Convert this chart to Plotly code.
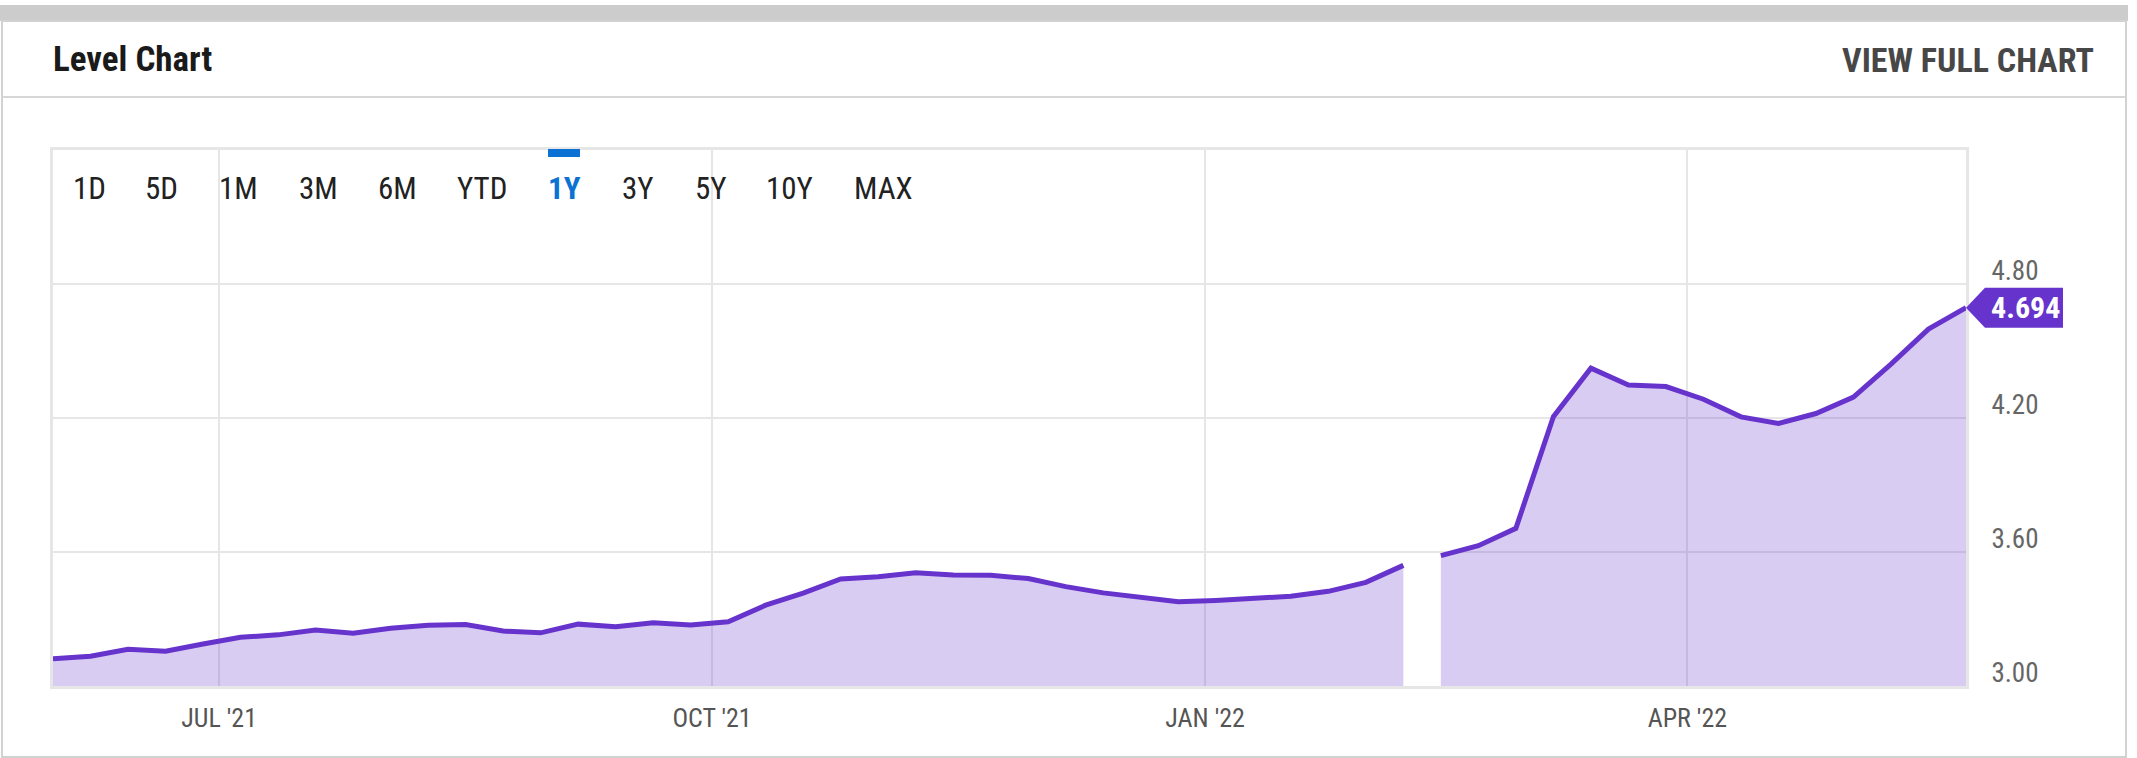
import plotly.graph_objects as go

# ---------------- data ----------------
dates = [
    "2021-05-31", "2021-06-07", "2021-06-14", "2021-06-21", "2021-06-28",
    "2021-07-05", "2021-07-12", "2021-07-19", "2021-07-26", "2021-08-02",
    "2021-08-09", "2021-08-16", "2021-08-23", "2021-08-30", "2021-09-06",
    "2021-09-13", "2021-09-20", "2021-09-27", "2021-10-04", "2021-10-11",
    "2021-10-18", "2021-10-25", "2021-11-01", "2021-11-08", "2021-11-15",
    "2021-11-22", "2021-11-29", "2021-12-06", "2021-12-13", "2021-12-20",
    "2021-12-27", "2022-01-03", "2022-01-10", "2022-01-17", "2022-01-24",
    "2022-01-31", "2022-02-07", "2022-02-10", "2022-02-14", "2022-02-21",
    "2022-02-28", "2022-03-07", "2022-03-14", "2022-03-21", "2022-03-28",
    "2022-04-04", "2022-04-11", "2022-04-18", "2022-04-25", "2022-05-02",
    "2022-05-09", "2022-05-16", "2022-05-23",
]
values = [
    3.122, 3.133, 3.164, 3.156, 3.188,
    3.218, 3.229, 3.251, 3.236, 3.259,
    3.272, 3.275, 3.246, 3.238, 3.277,
    3.265, 3.283, 3.273, 3.288, 3.362,
    3.416, 3.479, 3.489, 3.507, 3.497,
    3.496, 3.481, 3.445, 3.417, 3.398,
    3.377, 3.383, 3.392, 3.402, 3.424,
    3.464, 3.540, None, 3.584, 3.628,
    3.706, 4.206, 4.423, 4.348, 4.341,
    4.284, 4.205, 4.176, 4.220, 4.294,
    4.441, 4.598, 4.694,
]
x_tick_dates = ["2021-07-01", "2021-10-01", "2022-01-01", "2022-04-01"]
x_tick_labels = ["JUL '21", "OCT '21", "JAN '22", "APR '22"]
y_tick_vals = [3.00, 3.60, 4.20, 4.80]
y_tick_labels = ["3.00", "3.60", "4.20", "4.80"]
y_range = [3.00, 5.40]
range_buttons = ["1D", "5D", "1M", "3M", "6M", "YTD", "1Y", "3Y", "5Y", "10Y", "MAX"]
active_button = "1Y"
title_text = "Level Chart"
link_text = "VIEW FULL CHART"
last_label = "4.694"

# ---------------- layout constants (pixels) ----------------
W, H = 2137, 758
L, R, T, B = 53, 1966, 150, 686
button_x = [89, 161, 238, 318, 397, 482, 564, 638, 711, 789, 883]
FONT = "Liberation Sans Narrow, Roboto Condensed, Arial Narrow, Roboto"
LINE = "#6633cc"
FILL = "rgba(102,51,204,0.25)"
GRID = "#e6e6e6"


def px(X):
    return (X - L) / (R - L)


def py(Y):
    return (B - Y) / (B - T)


# split the series at missing values so both the line and the fill break
segments = []
cur_x, cur_y = [], []
for d, v in zip(dates, values):
    if v is None:
        if cur_x:
            segments.append((cur_x, cur_y))
        cur_x, cur_y = [], []
    else:
        cur_x.append(d)
        cur_y.append(v)
if cur_x:
    segments.append((cur_x, cur_y))

fig = go.Figure()
for sx, sy in segments:
    fig.add_trace(go.Scatter(
        x=sx, y=sy, mode="lines",
        line=dict(color=LINE, width=5), fill="tozeroy", fillcolor=FILL,
        hoverinfo="x+y", showlegend=False,
    ))

shapes = []
annotations = []

# top gray bar
shapes.append(dict(type="rect", xref="paper", yref="paper",
                   x0=px(0), x1=px(2128), y0=py(21), y1=py(5),
                   fillcolor="#cccccc", line=dict(width=0), layer="below"))
# card border
shapes.append(dict(type="rect", xref="paper", yref="paper",
                   x0=px(2), x1=px(2126), y0=py(757), y1=py(21),
                   fillcolor="rgba(0,0,0,0)", line=dict(color="#d2d2d2", width=2),
                   layer="below"))
# header separator
shapes.append(dict(type="line", xref="paper", yref="paper",
                   x0=px(3), x1=px(2125), y0=py(97), y1=py(97),
                   line=dict(color="#d6d6d6", width=2)))
# active button indicator
shapes.append(dict(type="rect", xref="paper", yref="paper",
                   x0=px(548), x1=px(580), y0=py(157), y1=py(149),
                   fillcolor="#0b72d3", line=dict(width=0)))

# last value tag
last_val = [v for v in values if v is not None][-1]
per_px = (y_range[1] - y_range[0]) / (B - T)
hh = 20 * per_px
tip, x1, x2 = px(R), px(R + 19), px(R + 97)
path = (f"M {tip},{last_val} L {x1},{last_val + hh} L {x2},{last_val + hh} "
        f"L {x2},{last_val - hh} L {x1},{last_val - hh} Z")
shapes.append(dict(type="path", xref="paper", yref="y", path=path,
                   fillcolor=LINE, line=dict(width=0)))
annotations.append(dict(xref="paper", yref="y", x=px(R + 59), y=last_val,
                        text=f"<b>{last_label}</b>", showarrow=False,
                        xanchor="center", yanchor="middle",
                        font=dict(family=FONT, size=30, color="white")))

# header texts
annotations.append(dict(xref="paper", yref="paper", x=px(51), y=py(60),
                        text=f"<b>{title_text}</b>", showarrow=False,
                        xanchor="left", yanchor="middle",
                        font=dict(family=FONT, size=35, color="#1a1a1a")))
annotations.append(dict(xref="paper", yref="paper", x=px(2096), y=py(60),
                        text=f"<b>{link_text}</b>", showarrow=False,
                        xanchor="right", yanchor="middle",
                        font=dict(family=FONT, size=34, color="#474747")))

# range buttons
for lbl, bx in zip(range_buttons, button_x):
    active = lbl == active_button
    annotations.append(dict(xref="paper", yref="paper", x=px(bx), y=py(189),
                            text=f"<b>{lbl}</b>" if active else lbl,
                            showarrow=False, xanchor="center", yanchor="middle",
                            font=dict(family=FONT, size=31,
                                      color="#0b72d3" if active else "#222222")))

fig.update_layout(
    width=W, height=H, autosize=False,
    margin=dict(l=L, r=W - R, t=T, b=H - B, pad=0),
    paper_bgcolor="white", plot_bgcolor="white",
    shapes=shapes, annotations=annotations,
    font=dict(family=FONT, color="#555555"),
    xaxis=dict(
        type="date", range=[dates[0], dates[-1]],
        tickmode="array", tickvals=x_tick_dates, ticktext=x_tick_labels,
        showgrid=True, gridcolor=GRID, gridwidth=2,
        showline=True, linecolor=GRID, linewidth=3, mirror=True,
        ticks="", ticklabelstandoff=7, zeroline=False,
        tickfont=dict(family=FONT, size=26, color="#555555"),
        fixedrange=True,
    ),
    yaxis=dict(
        range=y_range, side="right",
        tickmode="array", tickvals=y_tick_vals, ticktext=y_tick_labels,
        showgrid=True, gridcolor=GRID, gridwidth=2,
        showline=True, linecolor=GRID, linewidth=3, mirror=True,
        ticks="", ticklabelposition="outside top", ticklabelstandoff=17,
        ticklabelshift=5,
        zeroline=False,
        tickfont=dict(family=FONT, size=27, color="#666666"),
        fixedrange=True,
    ),
)

fig.write_html("out.html", config={"displayModeBar": False},
               post_script="document.body.style.margin='0';")
